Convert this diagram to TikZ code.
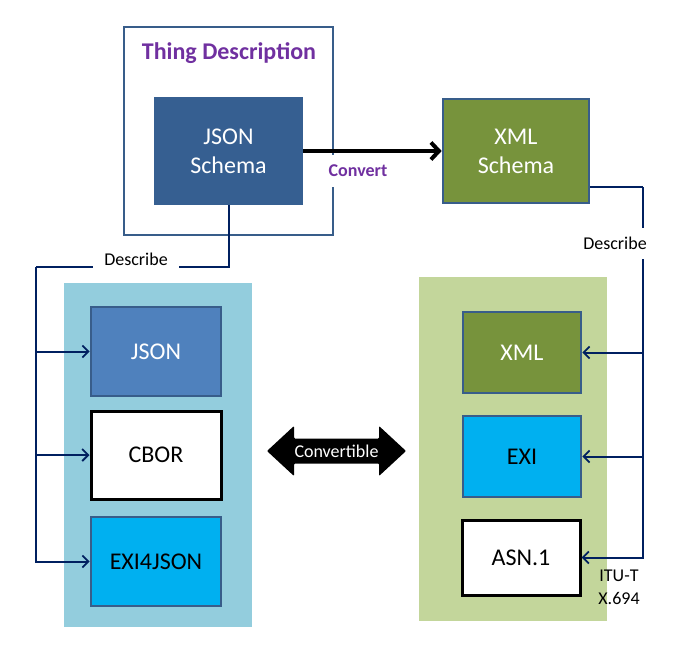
\documentclass[tikz,border=0pt]{standalone}
\usepackage{fontspec}
\setmainfont{Carlito}
\usetikzlibrary{arrows.meta}
\definecolor{frameblue}{HTML}{385D8A}
\definecolor{darkblue}{HTML}{365F91}
\definecolor{olive}{HTML}{77933C}
\definecolor{midblue}{HTML}{4F81BD}
\definecolor{cyanbox}{HTML}{00B0F0}
\definecolor{lightblue}{HTML}{93CDDD}
\definecolor{lightgreen}{HTML}{C3D69B}
\definecolor{navy}{HTML}{002060}
\definecolor{purp}{HTML}{7030A0}
\tikzset{
  box/.style={draw=frameblue, line width=2.6pt, inner sep=0pt, align=center, font=\fontsize{24}{28.8}\selectfont},
  wbox/.style={draw=black, line width=3pt, fill=white, inner sep=0pt, align=center, font=\fontsize{24}{28.8}\selectfont},
  panel/.style={inner sep=0pt},
  conn/.style={draw=navy, line width=2pt},
  barb/.style={-{Straight Barb[length=6pt,width=12pt,line width=1.8pt]}},
  lbl/.style={fill=white, inner ysep=5pt, inner xsep=11pt, font=\fontsize{18}{21.6}\selectfont},
}
\begin{document}
\begin{tikzpicture}[x=1pt,y=-1pt]
\useasboundingbox (0,0) rectangle (677,650);
% panels
\node[panel, fill=lightblue, minimum width=188pt, minimum height=344pt] (lp) at (158,455) {};
\node[panel, fill=lightgreen, minimum width=188pt, minimum height=344pt] (rp) at (513,449) {};
% thing description frame
\node[draw=frameblue, line width=2.6pt, minimum width=209pt, minimum height=208pt, inner sep=0pt] (td) at (228.5,131) {};
\node[text=purp, font=\bfseries\fontsize{24}{28.8}\selectfont] (tdt) at (229,53) {Thing Description};
% boxes
\node[box, fill=darkblue, draw=darkblue, text=white, minimum width=147pt, minimum height=106pt] (js) at (228.5,151) {JSON\\Schema};
\node[box, fill=olive, text=white, minimum width=146pt, minimum height=104pt] (xs) at (516,151) {XML\\Schema};
\node[box, fill=midblue, text=white, minimum width=130pt, minimum height=89pt] (json) at (156,351.5) {JSON};
\node[wbox, minimum width=130pt, minimum height=88pt] (cbor) at (156,455) {CBOR};
\node[box, fill=cyanbox, text=black, minimum width=130pt, minimum height=89pt] (exij) at (156,561.5) {EXI4JSON};
\node[box, fill=olive, text=white, minimum width=118pt, minimum height=81pt] (xml) at (522,352.5) {XML};
\node[box, fill=cyanbox, text=black, minimum width=118pt, minimum height=81pt] (exi) at (522,456.5) {EXI};
\node[wbox, minimum width=118pt, minimum height=75pt] (asn) at (521,557.5) {ASN.1};
% convert arrow
\draw[line width=4pt, -{Straight Barb[length=8pt,width=17pt]}] (js.east) -- (xs.west);
\node[fill=white, text=purp, font=\bfseries\fontsize{18}{21.6}\selectfont, inner xsep=3pt, minimum height=32pt] (cv) at (358,171) {Convert};
% left describe
\coordinate (lc) at (36,267);
\draw[conn] (js.south) |- (lc);
\draw[conn, barb] (lc) |- (exij.west);
\draw[conn, barb] (lc |- json.west) -- (json.west);
\draw[conn, barb] (lc |- cbor.west) -- (cbor.west);
\node[lbl] (dl) at (136,259) {Describe};
% right describe
\coordinate (rc) at (643,187);
\draw[conn] (rc -| xs.east) -- (rc);
\draw[conn, barb] (rc) |- (asn.east);
\draw[conn, barb] (rc |- xml.east) -- (xml.east);
\draw[conn, barb] (rc |- exi.east) -- (exi.east);
\node[lbl, inner xsep=2pt, inner ysep=0pt, minimum height=31pt] (dr) at (615,243) {Describe};
\node[align=center, font=\fontsize{18}{23}\selectfont, inner sep=0pt] (itu) at (619,587.5) {ITU-T\\X.694};
% convertible double arrow
\fill[black, rounded corners=1pt] (267,451) -- (294,426) -- (294,438.5) -- (379,438.5) -- (379,426) -- (406,451) -- (379,476) -- (379,463.5) -- (294,463.5) -- (294,476) -- cycle;
\node[text=white, font=\fontsize{18}{21.6}\selectfont, inner sep=0pt] (conv) at (336.5,451) {Convertible};
\end{tikzpicture}
\end{document}
